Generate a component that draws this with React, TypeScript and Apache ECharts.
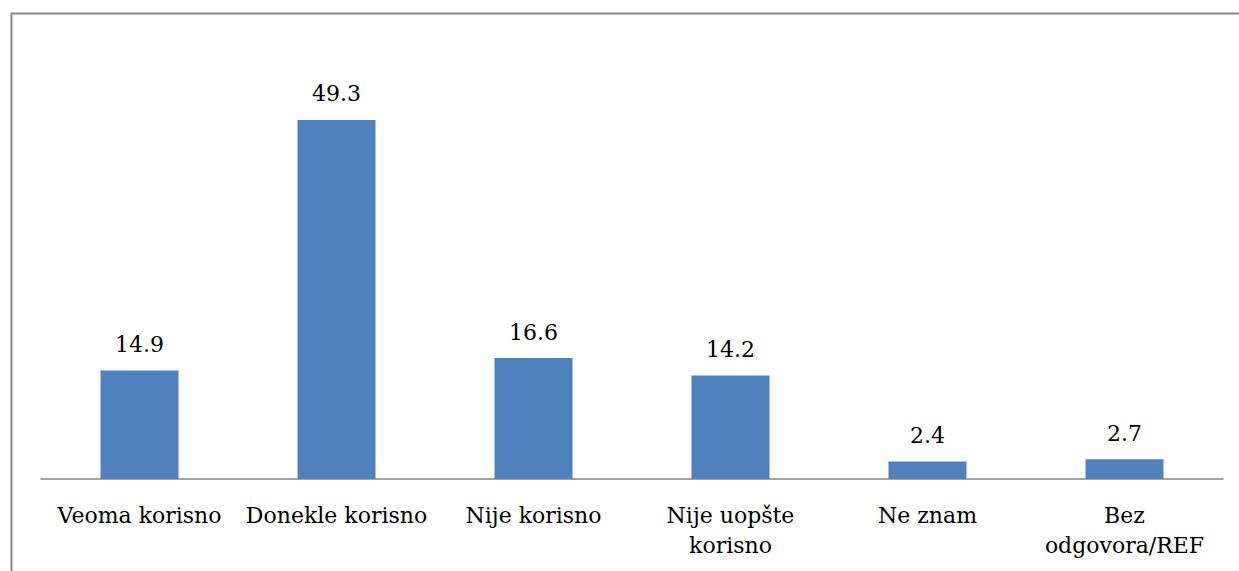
import React, { useEffect, useRef } from "react";
import * as echarts from "echarts";

const categories = ["Veoma korisno", "Donekle korisno", "Nije korisno", "Nije uopšte\nkorisno", "Ne znam", "Bez\nodgovora/REF"];
const values = [14.9, 49.3, 16.6, 14.2, 2.4, 2.7];

export default function App() {
  const ref = useRef<HTMLDivElement>(null);
  useEffect(() => {
    const chart = echarts.init(ref.current!, null, { renderer: "svg" });
    chart.setOption({
      animation: false,
      backgroundColor: "#ffffff",
      graphic: [
        {
          type: "rect",
          shape: { x: 11.5, y: 13.5, width: 1300, height: 700 },
          style: { fill: "none", stroke: "#878787", lineWidth: 2 },
          silent: true,
        },
      ],
      grid: { left: 41, right: 16, top: 42, bottom: 92, containLabel: false },
      xAxis: {
        type: "category",
        data: categories,
        axisLine: { lineStyle: { color: "#878787", width: 1.5 } },
        axisTick: { show: false },
        axisLabel: {
          interval: 0,
          color: "#000",
          fontFamily: "DejaVu Serif",
          fontSize: 22,
          lineHeight: 30,
          margin: 21,
          verticalAlign: "top",
        },
      },
      yAxis: {
        type: "value",
        min: 0,
        max: 60,
        show: false,
        splitLine: { show: false },
      },
      series: [
        {
          type: "bar",
          data: values,
          barWidth: 78,
          itemStyle: { color: "#4F81BD" },
          label: {
            show: true,
            position: "top",
            distance: 15,
            color: "#000",
            fontFamily: "DejaVu Serif",
            fontSize: 22,
            formatter: (p: any) => p.value.toFixed(1),
          },
        },
      ],
    });
    return () => chart.dispose();
  }, []);
  return <div ref={ref} style={{ position: "fixed", left: 0, top: 0, width: 1239, height: 571 }} />;
}
